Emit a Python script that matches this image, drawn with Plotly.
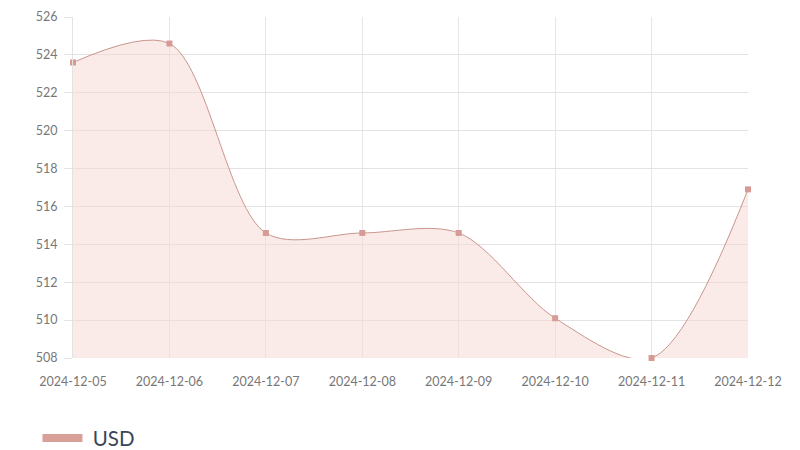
import plotly.graph_objects as go

dates = ["2024-12-05", "2024-12-06", "2024-12-07", "2024-12-08",
         "2024-12-09", "2024-12-10", "2024-12-11", "2024-12-12"]
usd = [523.6, 524.6, 514.6, 514.6, 514.6, 510.1, 508.0, 516.9]
y_ticks = [508, 510, 512, 514, 516, 518, 520, 522, 524, 526]

fig = go.Figure()
fig.add_trace(go.Scatter(
    x=dates, y=usd, mode="lines+markers", name="USD",
    line=dict(color="#c9958e", width=1, shape="spline", smoothing=0.9),
    marker=dict(symbol="square", size=6, color="#d89a94"),
    fill="tozeroy", fillcolor="rgba(245,215,210,0.5)",
    showlegend=False, cliponaxis=False,
))
fig.add_trace(go.Scatter(
    x=[None], y=[None], mode="lines", name="\u00a0USD",
    line=dict(color="#d9a09a", width=8),
))

fig.update_layout(
    width=800, height=450,
    margin=dict(l=65, r=60, t=9, b=100, autoexpand=False),
    paper_bgcolor="white", plot_bgcolor="white",
    font=dict(family="Lato, sans-serif", color="#777777", size=12),
    legend=dict(orientation="h", x=-0.0526, xanchor="left", y=-0.235, yanchor="middle",
                font=dict(size=20.5, color="#3b4658"), itemwidth=40),
    xaxis=dict(type="category", range=[0, 7], showgrid=True, gridcolor="#e6e6e6",
               showline=False, zeroline=False, automargin=False,
               ticks="", ticklabelstandoff=14,
               tickfont=dict(size=12.5, color="#777777")),
    yaxis=dict(range=[508, 526], tickvals=y_ticks, showgrid=True, gridcolor="#e3e3e3",
               zeroline=False, ticks="outside", ticklen=8, tickcolor="#e3e3e3",
               showline=True, linecolor="#e3e3e3", automargin=False,
               ticklabelstandoff=4,
               tickfont=dict(size=12.5, color="#777777")),
)
fig.write_html("out.html")
